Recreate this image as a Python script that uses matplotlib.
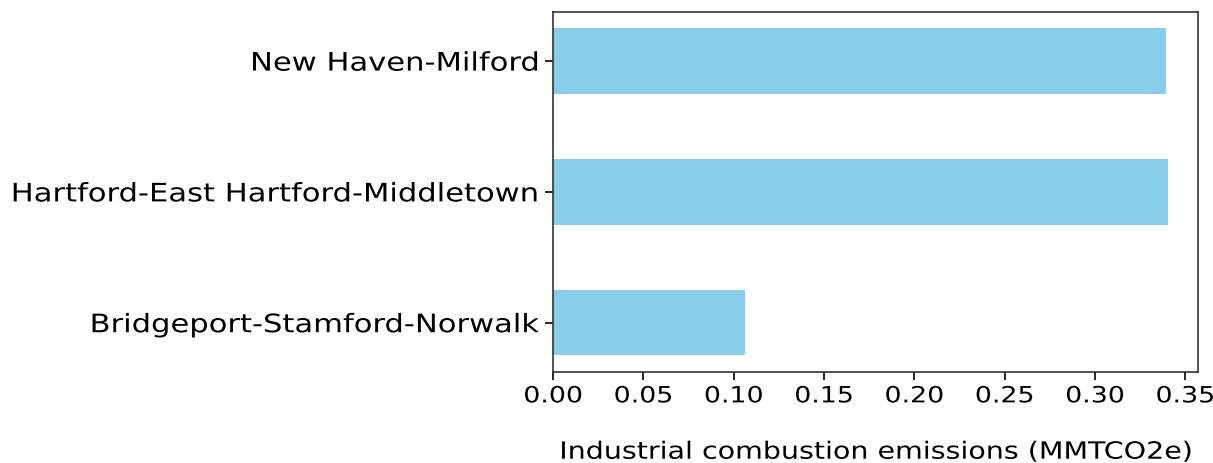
import matplotlib
matplotlib.use("Agg")
import matplotlib.pyplot as plt
from matplotlib.patheffects import AbstractPathEffect
from matplotlib.transforms import Affine2D

# Industrial combustion emissions by metro area (MMTCO2e)
regions = ["Bridgeport-Stamford-Norwalk",
           "Hartford-East Hartford-Middletown",
           "New Haven-Milford"]
emissions = [0.106, 0.3403, 0.3392]
xticks = [0.00, 0.05, 0.10, 0.15, 0.20, 0.25, 0.30, 0.35]


class WideText(AbstractPathEffect):
    """Draw glyphs stretched horizontally about a chosen anchor."""

    def __init__(self, sx=1.2, anchor="center"):
        super().__init__()
        self.sx = sx
        self.anchor = anchor

    def draw_path(self, renderer, gc, tpath, affine, rgbFace=None):
        ext = tpath.get_extents()
        if self.anchor == "right":
            x0 = ext.x1
        elif self.anchor == "left":
            x0 = ext.x0
        else:
            x0 = 0.5 * (ext.x0 + ext.x1)
        stretch = Affine2D().translate(-x0, 0).scale(self.sx, 1).translate(x0, 0)
        renderer.draw_path(gc, tpath, stretch + affine, rgbFace)


SX = 1.2

fig = plt.figure(figsize=(12.13, 4.63), dpi=100)
ax = fig.add_axes([0.456, 0.197, 0.532, 0.777])

ax.barh(regions, emissions, height=0.5, color="skyblue")
ax.set_xticks(xticks)
ax.set_xticklabels([f"{t:.2f}" for t in xticks])
ax.tick_params(axis="both", length=6, width=1.2)
ax.tick_params(axis="x", labelsize=16.1, pad=4.5)
ax.tick_params(axis="y", labelsize=18.35, pad=4)
ax.set_xlabel("Industrial combustion emissions (MMTCO2e)", fontsize=17.1, labelpad=24)
for s in ax.spines.values():
    s.set_linewidth(1.2)
    s.set_color("#333333")

for lbl in ax.get_xticklabels():
    lbl.set_path_effects([WideText(SX, "center")])
for lbl in ax.get_yticklabels():
    lbl.set_path_effects([WideText(SX, "right")])
ax.xaxis.label.set_path_effects([WideText(SX, "center")])

fig.savefig("out.png", dpi=100)
